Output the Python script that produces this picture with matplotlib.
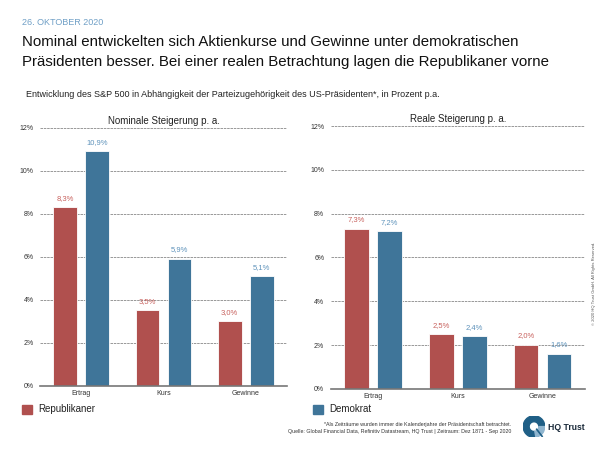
import matplotlib.pyplot as plt
import numpy as np
from matplotlib.patches import Rectangle, Wedge

plt.rcParams['font.family'] = ['Liberation Sans', 'DejaVu Sans']

kategorien = ['Ertrag', 'Kurs', 'Gewinne']
nominal_rep = [8.3, 3.5, 3.0]
nominal_dem = [10.9, 5.9, 5.1]
real_rep = [7.3, 2.5, 2.0]
real_dem = [7.2, 2.4, 1.6]
y_ticks = [0, 2, 4, 6, 8, 10, 12]

rot = '#b0504e'
blau = '#3f7599'
rot_text = '#c8625e'
blau_text = '#5f93bb'

fig = plt.figure(figsize=(6, 4.5), dpi=100)

def panel(ax, rep, dem, titel):
    x = np.arange(len(kategorien))
    b = 0.29
    ax.bar(x - 0.05 - b / 2, rep, b, color=rot, edgecolor='white', linewidth=0.6, zorder=3)
    ax.bar(x + 0.05 + b / 2, dem, b, color=blau, edgecolor='white', linewidth=0.6, zorder=3)
    for i in range(len(kategorien)):
        ax.text(x[i] - 0.05 - b / 2, rep[i] + 0.25, f'{rep[i]:.1f}%'.replace('.', ','),
                ha='center', va='bottom', fontsize=5.5, color=rot_text)
        ax.text(x[i] + 0.05 + b / 2, dem[i] + 0.25, f'{dem[i]:.1f}%'.replace('.', ','),
                ha='center', va='bottom', fontsize=5.5, color=blau_text)
    ax.set_xlim(-0.5, 2.5)
    ax.set_ylim(0, 12)
    ax.set_yticks(y_ticks)
    ax.set_yticklabels([f'{t}%' for t in y_ticks])
    ax.set_xticks(x)
    ax.set_xticklabels(kategorien)
    ax.tick_params(axis='both', length=0, labelsize=5, colors='#333333')
    ax.tick_params(axis='y', pad=4.5)
    ax.tick_params(axis='x', pad=3)
    ax.grid(axis='y', color='#888888', linestyle=(0, (3, 1)), linewidth=0.6, zorder=0)
    for s in ['top', 'right', 'left']:
        ax.spines[s].set_visible(False)
    ax.spines['bottom'].set_color('#777777')
    ax.spines['bottom'].set_linewidth(1.2)
    ax.spines['bottom'].set_zorder(4)
    ax.set_title(titel, fontsize=7, pad=3, color='#222222')

ax1 = fig.add_axes([0.067, 0.143, 0.411, 0.573])
panel(ax1, nominal_rep, nominal_dem, 'Nominale Steigerung p. a.')
ax2 = fig.add_axes([0.551, 0.136, 0.424, 0.584])
panel(ax2, real_rep, real_dem, 'Reale Steigerung p. a.')

# Kopf
fig.text(0.037, 0.951, '26. OKTOBER 2020', fontsize=6.5, color='#6f9fc6', va='center')
fig.text(0.037, 0.906, 'Nominal entwickelten sich Aktienkurse und Gewinne unter demokratischen',
         fontsize=10.85, color='#111111', va='center')
fig.text(0.037, 0.862, 'Präsidenten besser. Bei einer realen Betrachtung lagen die Republikaner vorne',
         fontsize=10.85, color='#111111', va='center')
fig.text(0.043, 0.789, 'Entwicklung des S&P 500 in Abhängigkeit der Parteizugehörigkeit des US-Präsidenten*, in Prozent p.a.',
         fontsize=6.5, color='#222222', va='center')

# Legende
fig.patches.append(Rectangle((0.037, 0.080), 0.016, 0.021, transform=fig.transFigure,
                             color=rot, figure=fig))
fig.text(0.063, 0.090, 'Republikaner', fontsize=7, va='center', color='#222222')
fig.patches.append(Rectangle((0.522, 0.080), 0.016, 0.021, transform=fig.transFigure,
                             color=blau, figure=fig))
fig.text(0.549, 0.090, 'Demokrat', fontsize=7, va='center', color='#222222')

# Fussnote
fig.text(0.852, 0.057, '*Als Zeiträume wurden immer die Kalenderjahre der Präsidentschaft betrachtet.',
         fontsize=3.8, ha='right', va='center', color='#333333')
fig.text(0.852, 0.040, 'Quelle: Global Financial Data, Refinitiv Datastream, HQ Trust | Zeitraum: Dez 1871 - Sep 2020',
         fontsize=3.8, ha='right', va='center', color='#333333')

# Logo
logo = fig.add_axes([0.872, 0.028, 0.036, 0.048])
logo.set_xlim(-1, 1)
logo.set_ylim(-1, 1)
logo.set_aspect('equal')
logo.axis('off')
logo.add_patch(Wedge((0, 0), 1, 0, 280, width=0.55, color='#1f5f86'))
logo.add_patch(Wedge((0, 0), 1, 280, 360, width=0.55, color='#8fb5cf'))
logo.plot([0.25, 0.75], [-0.25, -0.9], color='#1f5f86', linewidth=1.2)
fig.text(0.913, 0.051, 'HQ Trust', fontsize=6.2, fontweight='bold', va='center', color='#1a2a3a')

fig.text(0.99, 0.37, '© 2020 HQ Trust GmbH. All Rights Reserved.', fontsize=3, rotation=90,
         ha='center', va='center', color='#555555')

fig.savefig('out.png', dpi=100)
